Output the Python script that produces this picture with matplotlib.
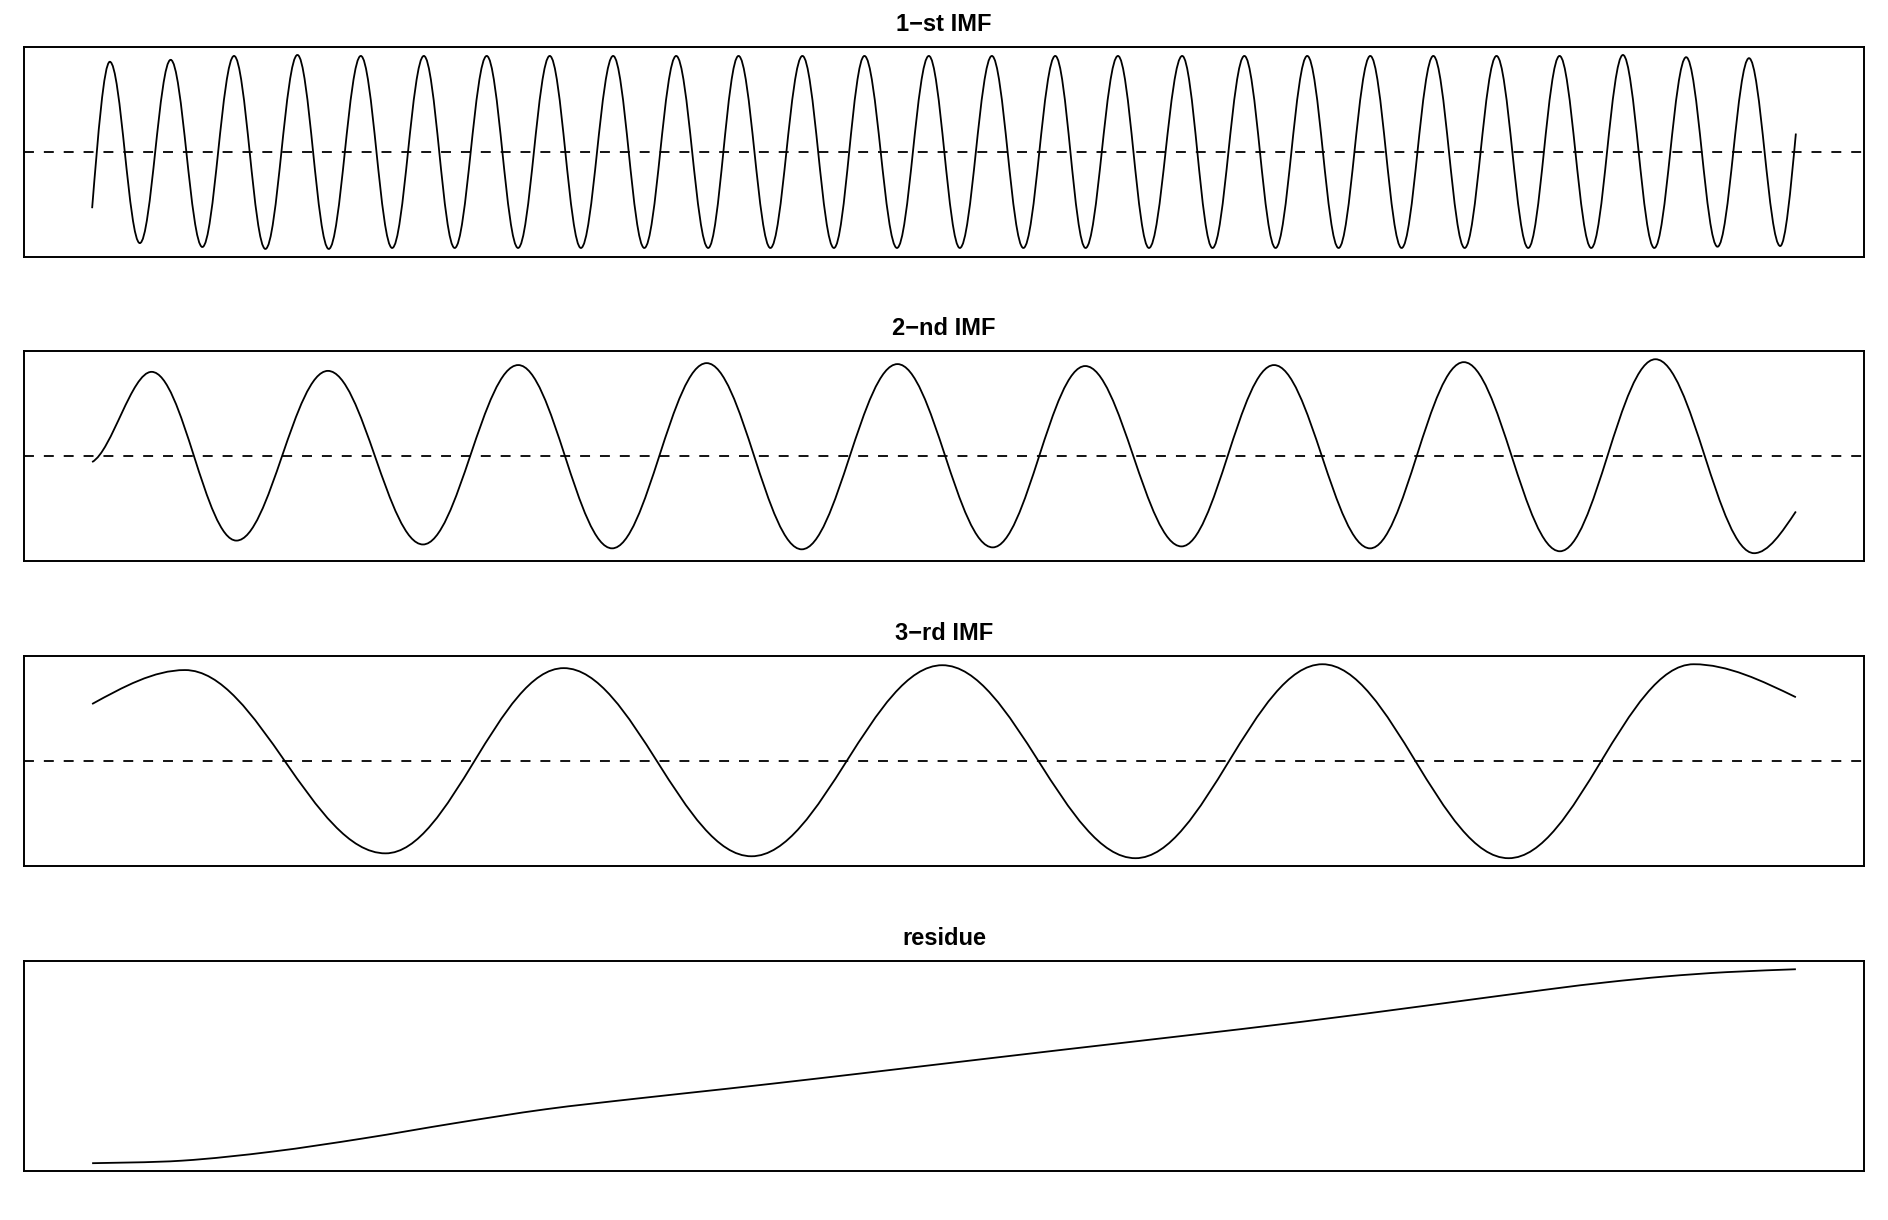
import numpy as np
import matplotlib
matplotlib.use("Agg")
import matplotlib.pyplot as plt
from matplotlib.path import Path
from matplotlib.patches import PathPatch

plt.rcParams['font.family'] = ['Liberation Sans', 'DejaVu Sans']

titles = ['1\u2212st IMF', '2\u2212nd IMF', '3\u2212rd IMF', 'residue']

# sample index runs 0..1000
t_first, t_last = 0.0, 1000.0

# 1-st IMF: end values and extrema (position, value)
imf1_ends = [-0.58, 0.19]
imf1_peak_t = [10.4, 46.1, 83.3, 120.5, 157.7, 194.7, 231.6, 268.6, 305.8,
               342.8, 379.4, 416.9, 453.3, 491.1, 528.1, 565.3, 602.1, 639.8,
               676.3, 713.2, 750.2, 787.2, 824.3, 861.3, 898.5, 935.6, 972.5]
imf1_peak_y = [0.93, 0.95, 0.99, 1.0, 0.99, 0.99, 0.99, 0.99, 0.99,
               0.99, 0.99, 0.99, 0.99, 0.99, 0.99, 0.99, 0.99, 0.99,
               0.99, 0.99, 0.99, 0.99, 0.99, 0.99, 1.0, 0.977, 0.967]
imf1_trough_t = [28.0, 64.7, 101.7, 138.9, 176.1, 212.8, 250.0, 286.9, 324.1,
                 361.6, 398.1, 435.4, 472.4, 509.3, 546.6, 583.1, 620.3, 657.6,
                 694.6, 731.6, 768.6, 805.6, 842.9, 879.9, 916.9, 954.0, 990.8]
imf1_trough_y = [-0.94, -0.98, -1.0, -1.0, -0.99, -0.99, -0.99, -0.99, -0.99,
                 -0.99, -0.99, -0.99, -0.99, -0.99, -0.99, -0.99, -0.99, -0.99,
                 -0.99, -0.99, -0.99, -0.99, -0.99, -0.99, -0.99, -0.977, -0.97]

# 2-nd IMF
imf2_ends = [-0.06, -0.57]
imf2_peak_t = [34.9, 138.4, 250.1, 360.7, 472.7, 582.9, 693.7, 805.1, 917.6]
imf2_peak_y = [0.87, 0.88, 0.94, 0.96, 0.95, 0.93, 0.94, 0.97, 1.0]
imf2_trough_t = [84.7, 194.2, 305.2, 416.5, 528.6, 639.4, 750.1, 861.5, 975.5]
imf2_trough_y = [-0.87, -0.91, -0.95, -0.96, -0.94, -0.93, -0.95, -0.98, -1.0]

# 3-rd IMF
imf3_ends = [0.59, 0.66]
imf3_peak_t = [54.5, 276.8, 499.0, 722.1, 940.0]
imf3_peak_y = [0.94, 0.96, 0.99, 1.0, 1.0]
imf3_trough_t = [172.2, 387.0, 612.4, 831.4]
imf3_trough_y = [-0.95, -0.98, -1.0, -1.0]

# residue
res_t = [0, 52.7, 106.0, 159.3, 212.7, 266.1, 319.5, 372.8, 426.1, 479.5,
         568.8, 639.8, 710.8, 781.8, 852.7, 888.2, 923.7, 959.2, 1000]
res_y = [0.0, 0.013, 0.060, 0.128, 0.206, 0.278, 0.333, 0.384, 0.437, 0.492,
         0.584, 0.656, 0.730, 0.811, 0.894, 0.932, 0.963, 0.985, 1.0]


def imf_path(ends, pt, py, tt, ty, k0=0.5):
    ext = sorted(zip(pt + tt, py + ty))
    a = (np.pi - 2) / np.pi
    verts = [(t_first, ends[0])]
    # first piece: start value up/down to the first extremum
    t1, y1 = ext[0]
    d = t1 - t_first
    verts += [(t_first + d / 3, ends[0] + k0 * (y1 - ends[0])), (t1 - d / 3, y1), (t1, y1)]
    for (ta, ya), (tb, yb) in zip(ext[:-1], ext[1:]):
        d = tb - ta
        verts += [(ta + a * d, ya), (tb - a * d, yb), (tb, yb)]
    tn, yn = ext[-1]
    d = t_last - tn
    verts += [(tn + d / 3, yn), (t_last - d / 3, ends[1] - 0.5 * (ends[1] - yn)), (t_last, ends[1])]
    codes = [Path.MOVETO] + [Path.CURVE4] * (len(verts) - 1)
    return Path(verts, codes)


def smooth_path(t, y):
    p = np.column_stack([t, y])
    verts = [tuple(p[0])]
    for i in range(len(p) - 1):
        p0 = p[max(i - 1, 0)]
        p3 = p[min(i + 2, len(p) - 1)]
        c1 = p[i] + (p[i + 1] - p0) / 6
        c2 = p[i + 1] - (p3 - p[i]) / 6
        verts += [tuple(c1), tuple(c2), tuple(p[i + 1])]
    codes = [Path.MOVETO] + [Path.CURVE4] * (len(verts) - 1)
    return Path(verts, codes)


paths = [imf_path(imf1_ends, imf1_peak_t, imf1_peak_y, imf1_trough_t, imf1_trough_y),
         imf_path(imf2_ends, imf2_peak_t, imf2_peak_y, imf2_trough_t, imf2_trough_y, k0=0.12),
         imf_path(imf3_ends, imf3_peak_t, imf3_peak_y, imf3_trough_t, imf3_trough_y),
         smooth_path(res_t, res_y)]
ranges = [(min(imf1_trough_y), max(imf1_peak_y)),
          (min(imf2_trough_y), max(imf2_peak_y)),
          (min(imf3_trough_y), max(imf3_peak_y)),
          (min(res_y), max(res_y))]

fig = plt.figure(figsize=(18.88, 12.2), dpi=100)
bottoms = [0.7896, 0.5402, 0.2902, 0.0402]

for i in range(4):
    ax = fig.add_axes([0.0127, bottoms[i], 0.9746, 0.1717])
    lo, hi = ranges[i]
    pad = 0.04 * (hi - lo)
    ax.set_ylim(lo - pad, hi + pad)
    ax.set_xlim(t_first - 0.04 * (t_last - t_first), t_last + 0.04 * (t_last - t_first))
    ax.add_patch(PathPatch(paths[i], facecolor='none', edgecolor='black', lw=1.3))
    if i < 3:
        ax.axhline(0, color='black', lw=1.3, dashes=(5.5, 5.5))
    ax.set_xticks([])
    ax.set_yticks([])
    for s in ax.spines.values():
        s.set_linewidth(1.4)
    ax.set_title(titles[i], fontsize=17, fontweight='bold', pad=12)

plt.savefig('out.png', dpi=100)
plt.close()
